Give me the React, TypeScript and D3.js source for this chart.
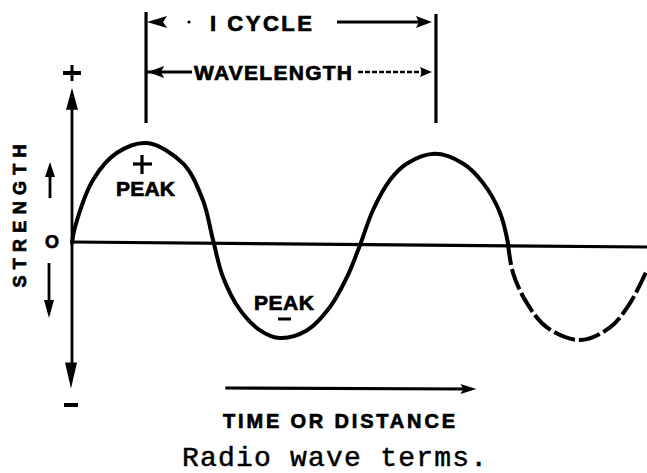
import React from "react";
import * as d3 from "d3";

// ---- data (time in half-cycle units, strength in peak units) ----
const waveTime = [0, 0.02, 0.144, 0.308, 0.514, 0.76, 0.897, 0.966, 1.034, 1.151, 1.288, 1.425, 1.61, 1.767, 1.884, 1.973, 2.062, 2.178, 2.295, 2.486, 2.678, 2.815, 2.932, 2.986];
const waveStrength = [0, 0.16, 0.65, 0.93, 1.03, 0.82, 0.44, 0.03, -0.35, -0.69, -0.9, -0.98, -0.9, -0.66, -0.35, -0.02, 0.34, 0.65, 0.82, 0.92, 0.82, 0.62, 0.31, 0];
const tailTime = [2.986, 3.021, 3.116, 3.253, 3.479, 3.685, 3.822, 3.938];
const tailStrength = [0, -0.31, -0.62, -0.87, -1.0, -0.87, -0.62, -0.28];
const cycleMarks = [0.514, 2.486];
const timeArrow = [1.05, 2.77];
const axisRange = [1.6, -1.5];
const zeroLineRange = [0, 3.94];

const topLabel = "I CYCLE";
const waveLabel = "WAVELENGTH";
const peakLabel = "PEAK";
const yLabel = "STRENGTH";
const xLabel = "TIME OR DISTANCE";
const caption = "Radio wave terms.";

const W = 647;
const H = 473;

export default function App() {
  const x = d3.scaleLinear().domain([0, 4]).range([72, 656]);
  const y = d3.scaleLinear().domain([-1, 1]).range([340, 146]);

  const pts = waveTime.map((t, i) => [t, waveStrength[i]] as [number, number]);
  const tail = tailTime.map((t, i) => [t, tailStrength[i]] as [number, number]);
  const line = d3
    .line<[number, number]>()
    .x((d) => x(d[0]))
    .y((d) => y(d[1]))
    .curve(d3.curveCatmullRom.alpha(0.5));

  const ax = x(0);
  const y0 = y(0);
  const boldFont = "'Liberation Sans', Arial, sans-serif";
  const leftBar = x(cycleMarks[0]);
  const rightBar = x(cycleMarks[1]);
  const heavy = { stroke: "#000", strokeWidth: 0.7 } as const;

  return (
    <svg
      width={W}
      height={H}
      viewBox={`0 0 ${W} ${H}`}
      style={{ position: "absolute", left: 0, top: 0, background: "#fff" }}
    >
      <rect x={0} y={0} width={W} height={H} fill="#fff" />
      {/* vertical axis */}
      <line x1={ax} x2={ax} y1={y(axisRange[0]) + 20} y2={y(axisRange[1]) - 24} stroke="#000" strokeWidth={2.8} />
      <path d={`M${ax},${y(axisRange[0])} l-6,22 l12,0 Z`} fill="#000" />
      <path d={`M${ax - 1},${y(axisRange[1])} l-6,-26 l12,0 Z`} fill="#000" />
      {/* + and - at axis ends */}
      <line x1={ax - 9} x2={ax + 9} y1={73} y2={73} stroke="#000" strokeWidth={4} />
      <line x1={ax} x2={ax} y1={65} y2={81} stroke="#000" strokeWidth={3} />
      <line x1={ax - 8} x2={ax + 6} y1={405} y2={405} stroke="#000" strokeWidth={4} />

      {/* zero line */}
      <line x1={x(zeroLineRange[0])} x2={x(zeroLineRange[1])} y1={y0 - 1} y2={y0 + 4} stroke="#000" strokeWidth={3.2} />

      {/* wave */}
      <path d={line(pts) || ""} fill="none" stroke="#000" strokeWidth={4} strokeLinecap="round" />
      <path d={line(tail) || ""} fill="none" stroke="#000" strokeWidth={4} strokeDasharray="22 4" />

      {/* strength label and small arrows */}
      <text
        transform={`translate(26,216) rotate(-90)`}
        textAnchor="middle"
        fontFamily={boldFont}
        fontWeight="bold"
        fontSize={18}
        textLength={143}
        lengthAdjust="spacing"
        {...heavy}
      >
        {yLabel}
      </text>
      <line x1={50} x2={50} y1={172} y2={198} stroke="#000" strokeWidth={2.8} />
      <path d="M50,162 l-5,15 l10,0 Z" fill="#000" />
      <line x1={49} x2={49} y1={263} y2={306} stroke="#000" strokeWidth={2.8} />
      <path d="M49,318 l-5,-18 l10,0 Z" fill="#000" />
      <text x={52} y={248} textAnchor="middle" fontFamily={boldFont} fontWeight="bold" fontSize={18} {...heavy}>
        O
      </text>

      {/* cycle / wavelength bars */}
      <line x1={leftBar - 1} x2={leftBar - 1} y1={12} y2={123} stroke="#000" strokeWidth={3.2} />
      <line x1={rightBar + 1} x2={rightBar + 1} y1={14} y2={123} stroke="#000" strokeWidth={3.2} />
      {/* row 1 */}
      <path d={`M${leftBar},22 l20,-6 l-4,6 l4,6 Z`} fill="#000" />
      <circle cx={189} cy={22} r={1.6} fill="#000" />
      <text x={210} y={31} fontFamily={boldFont} fontWeight="bold" fontSize={22} textLength={102} lengthAdjust="spacing" {...heavy}>
        {topLabel}
      </text>
      <line x1={337} x2={420} y1={22} y2={22} stroke="#000" strokeWidth={2.8} />
      <path d={`M${rightBar - 3},22 l-16,-6 l3,6 l-3,6 Z`} fill="#000" />
      {/* row 2 */}
      <line x1={leftBar} x2={192} y1={72} y2={72} stroke="#000" strokeWidth={2.8} />
      <path d={`M${leftBar + 1},72 l16,-6 l-3,6 l3,6 Z`} fill="#000" />
      <text x={194} y={80} fontFamily={boldFont} fontWeight="bold" fontSize={21} textLength={158} lengthAdjust="spacing" {...heavy}>
        {waveLabel}
      </text>
      <line x1={358} x2={424} y1={72} y2={72} stroke="#000" strokeWidth={2.4} strokeDasharray="5 2" />
      <path d={`M${rightBar - 3},72 l-12,-5 l2,5 l-2,5 Z`} fill="#000" />

      {/* peak labels */}
      <line x1={133} x2={152} y1={164} y2={164} stroke="#000" strokeWidth={3.2} />
      <line x1={142} x2={142} y1={155} y2={174} stroke="#000" strokeWidth={3.2} />
      <text x={116} y={196} fontFamily={boldFont} fontWeight="bold" fontSize={21} textLength={59} lengthAdjust="spacing" {...heavy}>
        {peakLabel}
      </text>
      <text x={254} y={310} fontFamily={boldFont} fontWeight="bold" fontSize={21} textLength={60} lengthAdjust="spacing" {...heavy}>
        {peakLabel}
      </text>
      <line x1={278} x2={291} y1={319} y2={319} stroke="#000" strokeWidth={3} />

      {/* time arrow */}
      <line x1={x(timeArrow[0])} x2={x(timeArrow[1]) - 8} y1={388} y2={389} stroke="#000" strokeWidth={3.2} />
      <path d={`M${x(timeArrow[1])},389 l-16,-5 l3,5 l-3,5 Z`} fill="#000" />
      <text x={223} y={428} fontFamily={boldFont} fontWeight="bold" fontSize={20} textLength={232} lengthAdjust="spacing" {...heavy}>
        {xLabel}
      </text>

      {/* caption */}
      <text
        x={182}
        y={466}
        fontFamily="'Liberation Mono', 'DejaVu Sans Mono', monospace"
        fontSize={28}
        textLength={305}
        lengthAdjust="spacing"
        stroke="#000"
        strokeWidth={0.5}
      >
        {caption}
      </text>
    </svg>
  );
}
